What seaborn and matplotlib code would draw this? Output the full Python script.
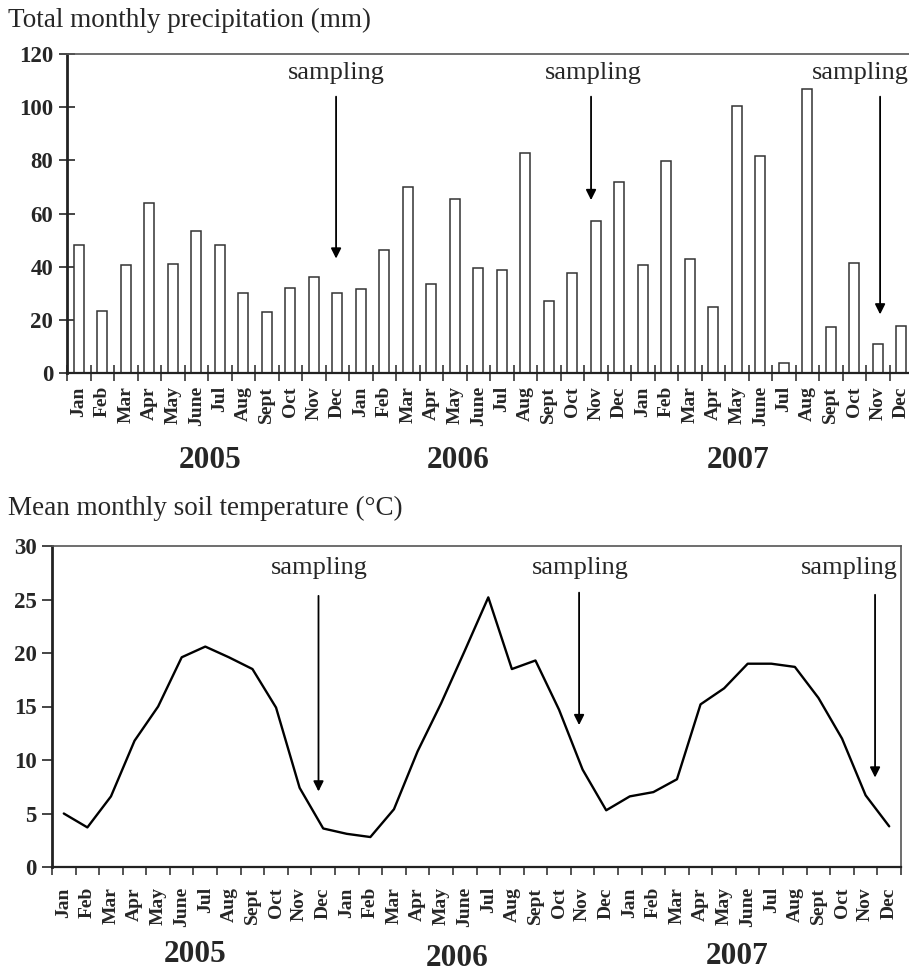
import numpy as np
import pandas as pd
import seaborn as sns
import matplotlib.pyplot as plt

# Months / years along the x axis
months = ['Jan', 'Feb', 'Mar', 'Apr', 'May', 'June', 'Jul', 'Aug', 'Sept', 'Oct', 'Nov', 'Dec']
years = ['2005', '2006', '2007']

# Total monthly precipitation (mm), Jan 2005 .. Dec 2007
precip = [48.2, 23.4, 40.6, 63.9, 41.0, 53.3, 48.2, 30.0, 23.1, 32.0, 36.1, 30.0,
          31.6, 46.1, 69.8, 33.5, 65.4, 39.5, 38.8, 82.7, 26.9, 37.6, 57.0, 71.7,
          40.6, 79.6, 43.0, 24.7, 100.6, 81.8, 3.8, 106.8, 17.4, 41.4, 10.9, 17.8]

# Mean monthly soil temperature (deg C), Jan 2005 .. Dec 2007
soil_temp = [5.0, 3.7, 6.6, 11.8, 15.0, 19.6, 20.6, 19.6, 18.5, 14.9, 7.4, 3.6,
             3.1, 2.8, 5.4, 10.8, 15.3, 20.2, 25.2, 18.5, 19.3, 14.7, 9.1, 5.3,
             6.6, 7.0, 8.2, 15.2, 16.7, 19.0, 19.0, 18.7, 15.8, 12.0, 6.7, 3.8]

# sampling arrows: (x index, arrow start, arrow tip, label x, label y)
precip_sampling = [(10.95, 105, 42, 10.95, 113), (21.8, 105, 64, 21.9, 113), (34.1, 105, 21, 33.25, 113)]
temp_sampling = [(10.8, 25.6, 6.8, 10.85, 27.9), (21.85, 25.9, 13.0, 21.9, 27.9), (34.4, 25.7, 8.1, 33.3, 27.9)]

df = pd.DataFrame({
    'idx': np.arange(36),
    'month': months * 3,
    'year': np.repeat(years, 12),
    'precip': precip,
    'temp': soil_temp,
})

sns.set_theme(style='ticks')
plt.rcParams['font.family'] = ['Liberation Serif', 'DejaVu Serif']
plt.rcParams['axes.edgecolor'] = '#222222'

W, H = 909, 975
fig = plt.figure(figsize=(W / 100, H / 100), dpi=100)


def style_axis(ax, ymax, ystep, y_inout, label_pad):
    ax.set_xlim(-0.5, 35.5)
    ax.set_ylim(0, ymax)
    ax.set_xlabel('')
    ax.set_ylabel('')
    ax.set_xticks(np.arange(36))
    ax.set_xticklabels(df['month'], rotation=90, fontweight='bold', fontsize=14)
    ax.set_xticks(np.arange(-0.5, 36, 1), minor=True)
    ax.tick_params(axis='x', which='major', length=0, pad=label_pad)
    ax.tick_params(axis='x', which='minor', length=6 if not y_inout else 11,
                   direction='inout' if y_inout else 'out', width=1.1)
    ax.set_yticks(np.arange(0, ymax + 1, ystep))
    ax.tick_params(axis='y', which='major', labelsize=16.5,
                   direction='inout' if y_inout else 'out',
                   length=12 if y_inout else 7, width=1.2, pad=4)
    plt.setp(ax.get_yticklabels(), fontweight='bold')
    ax.spines['left'].set_linewidth(2)
    ax.spines['bottom'].set_linewidth(1.6)
    for s in ['top', 'right']:
        ax.spines[s].set_linewidth(1.2)
        ax.spines[s].set_color('#555555')


# Top: precipitation bars
ax1 = fig.add_axes([67 / W, 1 - 373 / H, (913 - 67) / W, (373 - 54) / H])
sns.barplot(data=df, x='idx', y='precip', color='white', saturation=1,
            edgecolor='#333333', linewidth=1.1, width=0.43, errorbar=None, ax=ax1)
style_axis(ax1, 120, 20, True, 9.5)

for x, y0, y1, tx, ty in precip_sampling:
    ax1.annotate('', xy=(x, y1), xytext=(x, y0),
                 arrowprops=dict(arrowstyle='-|>', color='black', lw=1.3, mutation_scale=15))
    ax1.text(tx, ty, 'sampling', ha='center', va='center', fontsize=19)

# Bottom: soil temperature line
ax2 = fig.add_axes([52 / W, 1 - 867 / H, (901 - 52) / W, (867 - 546) / H])
sns.lineplot(data=df, x='idx', y='temp', color='black', linewidth=1.7, ax=ax2)
style_axis(ax2, 30, 5, False, 14.5)

for x, y0, y1, tx, ty in temp_sampling:
    ax2.annotate('', xy=(x, y1), xytext=(x, y0),
                 arrowprops=dict(arrowstyle='-|>', color='black', lw=1.3, mutation_scale=15))
    ax2.text(tx, ty, 'sampling', ha='center', va='center', fontsize=19)

# Titles and year labels
fig.text(8 / W, 1 - 20 / H, 'Total monthly precipitation (mm)', ha='left', va='center', fontsize=19.5)
fig.text(8 / W, 1 - 508 / H, 'Mean monthly soil temperature (\u00b0C)', ha='left', va='center', fontsize=19.5)

for yr, xp in zip(years, [210, 458, 738]):
    fig.text(xp / W, 1 - 460 / H, yr, ha='center', va='center', fontsize=22.5, fontweight='bold')
for yr, xp, yp in zip(years, [195, 457, 737], [955, 959, 957]):
    fig.text(xp / W, 1 - yp / H, yr, ha='center', va='center', fontsize=22.5, fontweight='bold')

fig.savefig('out.png', dpi=100, facecolor='white')
